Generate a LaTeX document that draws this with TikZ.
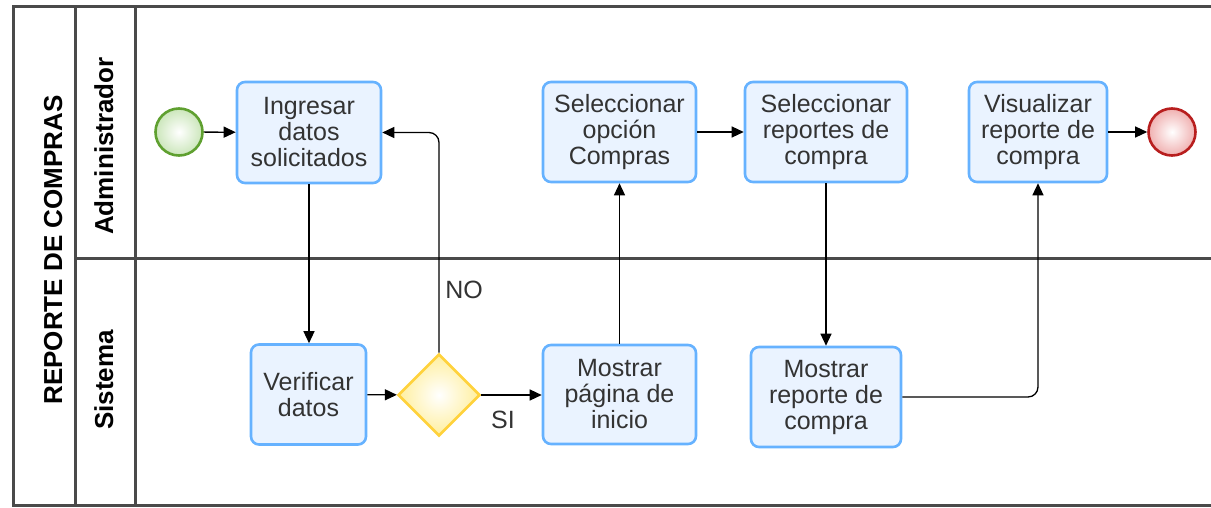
\documentclass[tikz,border=0pt]{standalone}
\usepackage{fontspec}
\setmainfont{Liberation Sans}
\usetikzlibrary{shapes.geometric,arrows.meta}
\definecolor{boxline}{HTML}{66B2FF}
\definecolor{boxfill}{HTML}{EAF3FF}
\definecolor{txt}{HTML}{333333}
\definecolor{laneline}{HTML}{4A4A4A}
\definecolor{startline}{HTML}{5FA030}
\definecolor{startfill}{HTML}{CBE6BA}
\definecolor{endline}{HTML}{B81E1E}
\definecolor{endfill}{HTML}{F0B0B0}
\definecolor{gwline}{HTML}{FFD23C}
\definecolor{gwfill}{HTML}{FFEF9E}
\tikzset{
  lanestroke/.style={draw=laneline, line width=3pt},
  task/.style={rectangle, rounded corners=8pt, draw=boxline, line width=2.6pt,
    fill=boxfill, text=txt, align=center, inner sep=0pt,
    font=\fontsize{25}{26}\selectfont},
  conn/.style={draw=black, line width=1.3pt, -{Triangle[length=12pt,width=11pt]}},
  lbl/.style={text=txt, font=\fontsize{25}{26}\selectfont, inner sep=0pt},
  lanelbl/.style={text=black, rotate=90, anchor=base, font=\bfseries\fontsize{26}{28}\selectfont, inner sep=0pt},
  startev/.style={circle, draw=startline, line width=2.6pt, minimum size=47pt, inner sep=0pt,
    shading=radial, inner color=white, outer color=startfill},
  endev/.style={circle, draw=endline, line width=2.6pt, minimum size=47pt, inner sep=0pt,
    shading=radial, inner color=white, outer color=endfill},
  gateway/.style={diamond, aspect=1, draw=gwline, line width=2.6pt, minimum size=82pt, inner sep=0pt,
    shading=radial, inner color=white, outer color=gwfill}
}
\begin{document}
\begin{tikzpicture}[x=1pt,y=-1pt]
\useasboundingbox (0,0) rectangle (1211,508);
% pool and lanes
\draw[lanestroke] (1212,7) -- (13.5,7) -- (13.5,505) -- (1212,505);
\draw[lanestroke] (75,7) -- (75,505);
\draw[lanestroke] (135,7) -- (135,505);
\draw[lanestroke] (75,258) -- (1212,258);
\node[lanelbl] (pooltitle) at (62,250) {REPORTE DE COMPRAS};
\node[lanelbl] (laneadmin) at (113,146) {Administrador};
\node[lanelbl] (lanesis) at (113,380) {Sistema};
% events and tasks
\node[startev] (start) at (179,132) {};
\node[task, minimum width=144pt, minimum height=101pt, text depth=1pt] (ingresar) at (309,132.5) {Ingresar\\datos\\solicitados};
\node[task, minimum width=153pt, minimum height=100pt] (selop) at (619.5,132) {Seleccionar\\opción\\Compras};
\node[task, minimum width=162pt, minimum height=100pt] (selrep) at (826,132) {Seleccionar\\reportes de\\compra};
\node[task, minimum width=138pt, minimum height=100pt] (visual) at (1038,132) {Visualizar\\reporte de\\compra};
\node[endev] (end) at (1172,132) {};
\node[task, minimum width=115pt, minimum height=100pt] (verificar) at (308.5,394.5) {Verificar\\datos};
\node[gateway] (gw) at (439,395) {};
\node[task, minimum width=153pt, minimum height=99pt] (mostrarpag) at (619.5,394.5) {Mostrar\\página de\\inicio};
\node[task, minimum width=150pt, minimum height=100pt] (mostrarrep) at (826,397) {Mostrar\\reporte de\\compra};
% connectors
\draw[conn] (start) -- (ingresar);
\draw[conn] (ingresar.south) -- (ingresar.south |- verificar.north);
\draw[conn] (verificar) -- (gw);
\draw[conn] (gw.east) -- (gw.east -| mostrarpag.west);
\draw[conn, rounded corners=10pt] (gw.north) |- (ingresar.east);
\draw[conn] (mostrarpag) -- (selop);
\draw[conn] (selop) -- (selrep);
\draw[conn] (selrep.south) -- (selrep.south |- mostrarrep.north);
\draw[conn, rounded corners=10pt] (mostrarrep.east) -| (visual.south);
\draw[conn] (visual) -- (end);
% labels
\node[lbl] (lblno) at (464,290) {NO};
\node[lbl] (lblsi) at (503,420) {SI};
\end{tikzpicture}
\end{document}
